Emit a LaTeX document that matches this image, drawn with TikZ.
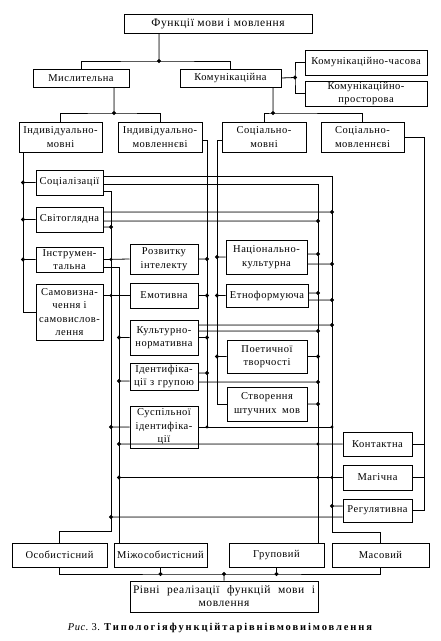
\documentclass[tikz,border=0pt]{standalone}
\usepackage{fontspec}
\setmainfont{Liberation Serif}[LetterSpace=5]
\newfontfamily\capfont{Liberation Serif}[LetterSpace=18]

\begin{document}
\begin{tikzpicture}
[
    x=1pt, y=-1pt, line width=0.8pt,
    box/.style={draw, line width=1pt, inner sep=1pt, align=center, font=\fontsize{10.5}{13.5}\selectfont},
]
\useasboundingbox (0,0) rectangle (441,641);
% boxes
\node [box, minimum width=188pt, minimum height=19pt, font=\fontsize{11.5}{14}\selectfont] (fun) at (218,23.5) {Функції мови і мовлення};
\node [box, minimum width=96pt, minimum height=18pt] (mysl) at (81,78) {Мислительна};
\node [box, minimum width=101pt, minimum height=18pt] (komu) at (230.5,78) {Комунікаційна};
\node [box, minimum width=122pt, minimum height=25pt] (kchas) at (366,62.5) {Комунікаційно-часова};
\node [box, minimum width=122pt, minimum height=25pt] (kpros) at (366,93.5) {Комунікаційно-\\просторова};
\node [box, minimum width=83pt, minimum height=30pt] (imov) at (60.5,137) {Індивідуально-\\мовні};
\node [box, minimum width=84pt, minimum height=30pt] (imovl) at (160,137) {Індивідуально-\\мовленнєві};
\node [box, minimum width=84pt, minimum height=30pt] (smov) at (264,137) {Соціально-\\мовні};
\node [box, minimum width=83pt, minimum height=30pt] (smovl) at (362.5,137) {Соціально-\\мовленнєві};
\node [box, minimum width=67pt, minimum height=25pt] (soc) at (69.5,182.5) {Соціалізації};
\node [box, minimum width=67pt, minimum height=25pt] (svit) at (69.5,219.5) {Світоглядна};
\node [box, minimum width=67pt, minimum height=25pt, inner ysep=0pt] (instr) at (69.5,259.5) {Інструмен-\\тальна};
\node [box, minimum width=67pt, minimum height=56pt] (samo) at (69.5,312) {Самовизна-\\чення і\\самовислов-\\лення};
\node [box, minimum width=68pt, minimum height=30pt] (rozv) at (164,259) {Розвитку\\інтелекту};
\node [box, minimum width=68pt, minimum height=25pt] (emot) at (164,295.5) {Емотивна};
\node [box, minimum width=68pt, minimum height=35pt] (kult) at (164,337.5) {Культурно-\\нормативна};
\node [box, minimum width=68pt, minimum height=27pt, inner ysep=0pt] (ident) at (164,376.5) {Ідентифіка-\\\makebox[60pt][s]{ції з групою}};
\node [box, minimum width=68pt, minimum height=42pt, inner ysep=0pt] (susp) at (164,427) {Суспільної\\ідентифіка-\\ції};
\node [box, minimum width=81pt, minimum height=34pt] (nats) at (266.5,257) {Національно-\\культурна};
\node [box, minimum width=82pt, minimum height=23pt, inner xsep=0pt] (etno) at (267,295.5) {Етноформуюча};
\node [box, minimum width=80pt, minimum height=33pt] (poet) at (267,356.5) {Поетичної\\творчості};
\node [box, minimum width=80pt, minimum height=34pt] (stvor) at (267,404) {Створення\\\makebox[66pt][s]{штучних мов}};
\node [box, minimum width=69pt, minimum height=24pt] (kont) at (377.5,444) {Контактна};
\node [box, minimum width=69pt, minimum height=25pt] (mag) at (377.5,477.5) {Магічна};
\node [box, minimum width=69pt, minimum height=23pt, inner xsep=0pt] (reg) at (377.5,510.5) {Регулятивна};
\node [box, minimum width=95pt, minimum height=24pt] (osob) at (59.5,555) {Особистісний};
\node [box, minimum width=93pt, minimum height=24pt] (mizh) at (160.5,555) {Міжособистісний};
\node [box, minimum width=95pt, minimum height=24pt] (grup) at (276.5,555) {Груповий};
\node [box, minimum width=97pt, minimum height=24pt] (mas) at (380.5,555) {Масовий};
\node [box, minimum width=188pt, minimum height=31pt, font=\fontsize{11.5}{13}\selectfont] (rivni) at (224,596.5) {\makebox[182pt][s]{Рівні реалізації функцій мови і}\\мовлення};
\node [font=\fontsize{10.5}{12}\selectfont] (capt) at (220,628) {{\itshape Рис.}~3. {\capfont\bfseries Типологіяфункційтарівнівмовиімовлення}};
% tree on top
\coordinate (j1) at (159,61);
\coordinate (j2) at (295,77.5);
\coordinate (j3) at (114,113);
\coordinate (j4) at (273,113);
\filldraw (j1 |- fun.south) -- (j1) circle[radius=1.6pt];
\draw (mysl.north) |- (j1) -| (komu.north);
\filldraw (komu.east) -- (j2) circle[radius=1.6pt];
\draw (kchas.west) -| (j2) |- (kpros.west);
\filldraw (j3 |- mysl.south) -- (j3) circle[radius=1.6pt];
\draw (imov.north) |- (j3) -| (imovl.north);
\filldraw (j4 |- komu.south) -- (j4) circle[radius=1.6pt];
\draw (smov.north) |- (j4) -| (smovl.north);
% buses
\coordinate (bA) at (23,0);
\coordinate (bB) at (111,0);
\coordinate (bC) at (119,0);
\coordinate (bD) at (207,0);
\coordinate (bE) at (217,0);
\coordinate (bF) at (318,0);
\coordinate (bG) at (332,0);
\coordinate (bH) at (424,0);
\coordinate (kB) at (111,531);
\coordinate (kG) at (332,532);
\draw (imov.south -| bA) |- (samo.west);
\draw ([yshift=-3pt]imovl.east) -| (susp.east -| bD);
\draw ([yshift=-3pt]smov.west) -| (stvor.west -| bE) -- (stvor.west);
\draw (smovl.east) -| (reg.east -| bH) -- (reg.east);
\draw ([yshift=6.5pt]soc.east) -| (kG) -| (mas.north);
\draw ([yshift=-1.5pt]soc.east) -| (bF |- grup.north);
\draw ([yshift=-8.5pt]soc.east) -| (kB) -| (osob.north);
\draw ([yshift=-7.5pt]instr.east) -| (bC |- mizh.north);
% onto bA
\filldraw (soc.west) -- (soc.west -| bA) circle[radius=1.6pt];
\filldraw (svit.west) -- (svit.west -| bA) circle[radius=1.6pt];
\filldraw (instr.west) -- (instr.west -| bA) circle[radius=1.6pt];
% onto bB
\filldraw ([yshift=-7.5pt]svit.east) -- ([yshift=-7.5pt]svit.east -| bB) circle[radius=1.6pt];
\draw (instr.east) -- (rozv.west);
\fill (instr.east -| bB) circle[radius=1.6pt];
\draw (samo.east |- emot.west) -- (emot.west);
\fill (emot.west -| bB) circle[radius=1.6pt];
\filldraw (susp.west) -- (susp.west -| bB) circle[radius=1.6pt];
\filldraw ([yshift=-6.5pt]reg.west) -- ([yshift=-6.5pt]reg.west -| bB) circle[radius=1.6pt];
% onto bC
\filldraw (kult.west) -- (kult.west -| bC) circle[radius=1.6pt];
\filldraw ([yshift=-4.5pt]ident.west) -- ([yshift=-4.5pt]ident.west -| bC) circle[radius=1.6pt];
\filldraw (kont.west) -- (kont.west -| bC) circle[radius=1.6pt];
\fill (kont.west -| bF) circle[radius=1.6pt];
\filldraw (mag.west) -- (mag.west -| bC) circle[radius=1.6pt];
\fill (mag.west -| bF) circle[radius=1.6pt];
\fill (mag.west -| bG) circle[radius=1.6pt];
% onto bD
\filldraw (rozv.east) -- (rozv.east -| bD) circle[radius=1.6pt];
\filldraw (emot.east) -- (emot.east -| bD) circle[radius=1.6pt];
\filldraw (kult.east) -- (kult.east -| bD) circle[radius=1.6pt];
\filldraw ([yshift=3.5pt]ident.east) -- ([yshift=3.5pt]ident.east -| bD) circle[radius=1.6pt];
\draw (susp.east) -- (susp.east -| bG);
\fill (susp.east -| bD) circle[radius=1.6pt];
\fill (susp.east -| bG) circle[radius=1.6pt];
% onto bE
\filldraw (nats.west) -- (nats.west -| bE) circle[radius=1.6pt];
\filldraw (etno.west) -- (etno.west -| bE) circle[radius=1.6pt];
\filldraw (poet.west) -- (poet.west -| bE) circle[radius=1.6pt];
% onto bF
\filldraw ([yshift=-1.5pt]svit.east) -- ([yshift=-1.5pt]svit.east -| bF) circle[radius=1.6pt];
\filldraw ([yshift=3pt]nats.east) -- ([yshift=3pt]nats.east -| bF) circle[radius=1.6pt];
\filldraw ([yshift=2.5pt]etno.east) -- ([yshift=2.5pt]etno.east -| bF) circle[radius=1.6pt];
\filldraw ([yshift=6.5pt]kult.east) -- ([yshift=6.5pt]kult.east -| bF) circle[radius=1.6pt];
\filldraw (poet.east) -- (poet.east -| bF) circle[radius=1.6pt];
\filldraw ([yshift=-5.5pt]ident.east) -- ([yshift=-5.5pt]ident.east -| bF) circle[radius=1.6pt];
\filldraw (stvor.east) -- (stvor.east -| bF) circle[radius=1.6pt];
% onto bG
\filldraw ([yshift=7.5pt]svit.east) -- ([yshift=7.5pt]svit.east -| bG) circle[radius=1.6pt];
\filldraw ([yshift=-7pt]nats.east) -- ([yshift=-7pt]nats.east -| bG) circle[radius=1.6pt];
\filldraw ([yshift=-4.5pt]etno.east) -- ([yshift=-4.5pt]etno.east -| bG) circle[radius=1.6pt];
\filldraw ([yshift=12.5pt]kult.east) -- ([yshift=12.5pt]kult.east -| bG) circle[radius=1.6pt];
\filldraw ([yshift=4.5pt]reg.west) -- ([yshift=4.5pt]reg.west -| bG) circle[radius=1.6pt];
% onto bH
\draw (kont.east) -- (kont.east -| bH);
\draw (mag.east) -- (mag.east -| bH);
% levels at the bottom
\coordinate (j5) at (224,574);
\draw (osob.south) |- (j5) -| (mas.south);
\filldraw (rivni.north) -- (j5) circle[radius=1.6pt];
\filldraw (mizh.south) -- (mizh.south |- j5) circle[radius=1.6pt];
\filldraw (grup.south) -- (grup.south |- j5) circle[radius=1.6pt];
\end{tikzpicture}
\end{document}
